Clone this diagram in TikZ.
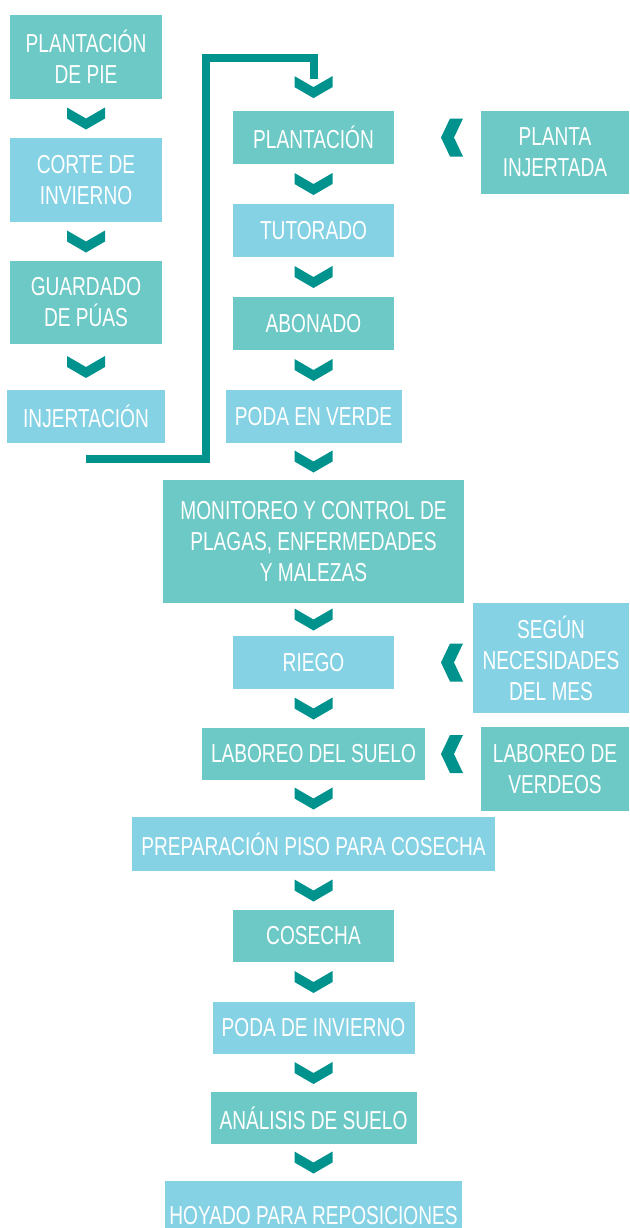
\documentclass[tikz,border=0pt]{standalone}
\usepackage{fontspec}
\setmainfont[FakeStretch=0.735]{Liberation Sans}
\usetikzlibrary{calc}
\definecolor{verdeagua}{HTML}{6CC9C5}
\definecolor{celeste}{HTML}{85D2E5}
\definecolor{petroleo}{HTML}{00938D}

\begin{document}
\begin{tikzpicture}[x=0.5pt,y=-0.5pt,
        caja/.style={inner sep=0pt,align=center,text=white,
            font=\fontsize{13}{15.5}\selectfont},
        verde/.style={caja,fill=verdeagua},
        azul/.style={caja,fill=celeste},
        lazo/.style={petroleo,line width=4pt},
        bajar/.pic={\fill[petroleo](-19,-11)--(0,0)--(19,-11)--(19,0)--(0,11)--(-19,0)--cycle;},
        izq/.pic={\fill[petroleo](-11,0)--(-2,-19)--(11,-19)--(2,0)--(11,19)--(-2,19)--cycle;}]
        \path[use as bounding box](0,0)rectangle(629,1228);
        \clip(0,0)rectangle(629,1228);

        % columna izquierda
        \node[verde,minimum width=76pt,minimum height=42pt](pie)at(86,57){PLANTACIÓN\\DE PIE};
        \node[azul,minimum width=76pt,minimum height=42pt](corte)at(86,180){CORTE DE\\INVIERNO};
        \node[verde,minimum width=76pt,minimum height=41.5pt](guardado)at(86,302.5){GUARDADO\\DE PÚAS};
        \node[azul,minimum width=79pt,minimum height=26.5pt](injert)at(86,416.5){INJERTACIÓN};

        % columna central
        \node[verde,minimum width=80.5pt,minimum height=26.5pt](plantacion)at(313.5,137.5){PLANTACIÓN};
        \node[azul,minimum width=80.5pt,minimum height=26.5pt](tutorado)at(313.5,230.5){TUTORADO};
        \node[verde,minimum width=80.5pt,minimum height=26.5pt](abonado)at(313.5,323.5){ABONADO};
        \node[azul,minimum width=88pt,minimum height=26.5pt](podaverde)at(313.5,416.5){PODA EN VERDE};
        \node[verde,minimum width=150.5pt,minimum height=61.5pt](monitoreo)at(313.5,541.5){MONITOREO Y CONTROL DE\\PLAGAS, ENFERMEDADES\\Y MALEZAS};
        \node[azul,minimum width=80.5pt,minimum height=26.5pt](riego)at(313.5,662.5){RIEGO};
        \node[verde,minimum width=111.5pt,minimum height=26pt](laboreo)at(313.5,754){LABOREO DEL SUELO};
        \node[azul,minimum width=181.5pt,minimum height=27pt](preparacion)at(313.5,844){PREPARACIÓN PISO PARA COSECHA};
        \node[verde,minimum width=80.5pt,minimum height=26pt](cosecha)at(313.5,936){COSECHA};
        \node[azul,minimum width=101pt,minimum height=26pt](podainvierno)at(313.5,1028){PODA DE INVIERNO};
        \node[verde,minimum width=103pt,minimum height=26pt](analisis)at(313.5,1118){ANÁLISIS DE SUELO};
        \node[azul,minimum width=148.5pt,minimum height=35pt](hoyado)at(313.5,1216){HOYADO PARA REPOSICIONES};

        % columna derecha
        \node[verde,minimum width=74pt,minimum height=41.5pt](injertada)at(555,152.5){PLANTA\\INJERTADA};
        \node[azul,minimum width=78pt,minimum height=55pt](segun)at(551,658){SEGÚN\\NECESIDADES\\DEL MES};
        \node[verde,minimum width=74pt,minimum height=42pt](verdeos)at(555,769){LABOREO DE\\VERDEOS};

        \foreach \a/\b in {pie/corte,corte/guardado,guardado/injert,
            plantacion/tutorado,tutorado/abonado,abonado/podaverde,podaverde/monitoreo,
            monitoreo/riego,riego/laboreo,laboreo/preparacion,preparacion/cosecha,
            cosecha/podainvierno,podainvierno/analisis,analisis/hoyado}
            \pic at ($(\a.south)!0.5!(\b.north)$){bajar};

        \foreach \a in {plantacion,riego,laboreo}
            \pic at (452,0 |- \a){izq};

        \coordinate(salida)at($(injert.south)+(0,16)$);
        \coordinate(llegada)at($(plantacion.north)+(0,-32)$);
        \pic at ($(plantacion.north)+(0,-23.5)$){bajar};
        \draw[lazo](salida)-|(206,57.5)-|(llegada);
    \end{tikzpicture}
\end{document}
